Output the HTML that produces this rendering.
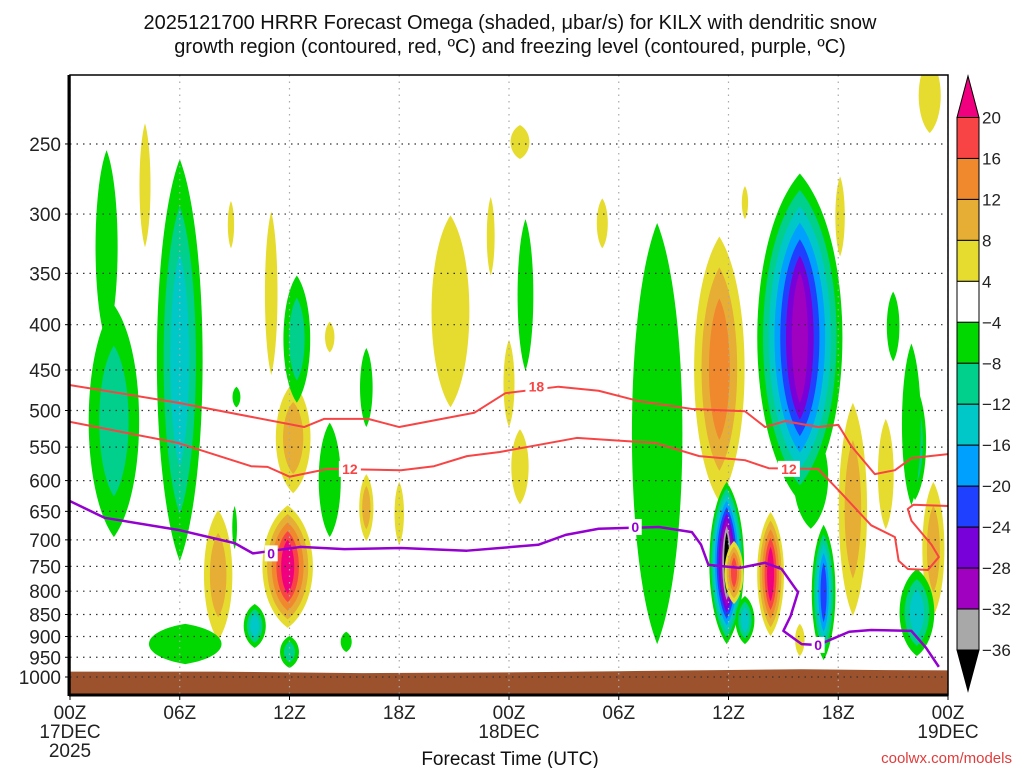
<!DOCTYPE html>
<html><head><meta charset="utf-8">
<style>
html,body{margin:0;padding:0;background:#fff;}
svg{display:block;font-family:"Liberation Sans","DejaVu Sans",sans-serif;}
</style></head>
<body>
<svg id="chart" width="1024" height="768" viewBox="0 0 1024 768">
<text x="510" y="29" font-size="20" text-anchor="middle" fill="#111">2025121700 HRRR Forecast Omega (shaded, μbar/s) for KILX with dendritic snow</text>
<text x="510" y="53" font-size="20" text-anchor="middle" fill="#111">growth region (contoured, red, ºC) and freezing level (contoured, purple, ºC)</text>
<g id="plot"></g>
<g id="cbar"></g>
<text x="510" y="765" font-size="19" text-anchor="middle" fill="#111">Forecast Time (UTC)</text>
<text x="1012" y="763" font-size="15" text-anchor="end" fill="#e03c3c">coolwx.com/models</text>
</svg>
<script>
// ---- data ----
const pressureTicks = [250,300,350,400,450,500,550,600,650,700,750,800,850,900,950,1000];
const hourTicks = [0,6,12,18,24,30,36,42,48];
const hourTickLabels = ["00Z","06Z","12Z","18Z","00Z","06Z","12Z","18Z","00Z"];
const dateLabels = {0:["17DEC","2025"],24:["18DEC"],48:["19DEC"]};
const cbarLevels = [20,16,12,8,4,-4,-8,-12,-16,-20,-24,-28,-32,-36];
const cbarColors = ["#f84444","#f0882e","#e6ae34","#e6dc30","#ffffff","#00d800","#00d08c","#00c8c8","#00a0ff","#2040ff","#7800d8","#a000c0","#a8a8a8"];
const posColors = {4:"#e6dc30",8:"#e6ae34",12:"#f0882e",16:"#f84444",20:"#f0007f"};
const negColors = {"-4":"#00d800","-8":"#00d08c","-12":"#00c8c8","-16":"#00a0ff","-20":"#2040ff","-24":"#7800d8","-28":"#a000c0","-32":"#a8a8a8","-36":"#000000"};
// omega blobs (hour centre, top hPa, bottom hPa, half width hours, peak band)
const blobHour = [2.0,2.4,6.0,4.1,8.8,11.0,12.2,8.1,11.9,12.4,14.2,16.2,16.2,18.0,20.8,23.0,6.3,10.1,12.0,15.1,9.1,14.2,9.0,24.6,29.1,24.9,24.0,24.6,32.1,35.5,40.5,39.9,36.9,42.1,45.0,46.2,47.0,35.9,36.3,38.3,36.9,41.2,42.8,44.6,47.2,46.3,39.9,46.0];
const blobTop  = [254,380,260,237,290,298,465,648,640,352,516,425,590,602,301,287,871,827,899,889,470,397,641,238,288,304,416,525,307,318,520,270,279,272,367,468,200,602,702,651,810,673,490,511,602,755,871,420];
const blobBot  = [420,695,740,327,328,456,620,908,880,490,695,522,702,709,496,352,967,927,977,937,496,430,717,260,328,451,522,638,918,634,680,634,304,335,440,631,243,918,827,899,918,957,853,681,853,947,947,640];
const blobHalfW= [0.7,1.6,1.45,0.35,0.2,0.4,1.1,0.9,1.6,0.85,0.7,0.4,0.45,0.3,1.2,0.25,2.3,0.7,0.6,0.35,0.25,0.3,0.15,0.6,0.35,0.5,0.35,0.55,1.6,1.6,1.1,2.7,0.2,0.3,0.4,0.7,0.7,1.1,0.6,0.85,0.6,0.75,0.9,0.5,0.7,1.1,0.3,0.6];
const blobPeak = [-4,-8,-12,4,4,4,8,8,20,-8,-4,-4,8,4,4,4,-4,-12,-8,-4,-4,4,-4,4,4,-4,4,4,-4,12,-4,-28,4,4,-4,-12,4,-36,16,20,-12,-20,8,4,8,-12,4,-4];
// contours
const m18Hours = [0,5.9,12.8,13.9,16.3,18,22.1,23.8,26.7,28.9,31.1,34,36.9,38,39.1,40.9,42,42.7,44,45.1,46,48];
const m18Pres  = [468,490,522,511,511,522,503,478,470,475,488,498,501,522,514,522,519,548,590,584,566,560];
const m12Hours = [0,5.9,9.9,10.8,12,14.1,18.1,19.9,21.7,23.5,27.7,32,34.4,36.9,38.2,40.9,42.2,43.8,45.1,45.3,45.8,46.9,47.5,47.1,46,45.8,46.1,48];
const m12Pres  = [515,544,578,579,594,582,584,578,563,557,537,544,563,569,581,582,621,674,695,739,755,757,732,709,666,646,639,641];
const zeroHours= [0,1.9,5.9,9,10,12.6,15,18.1,21.7,25.6,27.1,28.9,32.2,34,34.5,34.9,36.6,38,38.9,39.8,39.4,39,40,40.9,42.6,43.8,46,46.8,47.5];
const zeroPres = [633,661,682,706,725,713,717,715,720,709,691,680,677,686,709,747,753,743,755,802,853,887,918,920,889,885,887,927,974];
const terrainHours = [0,8,12,16,24,30,36,40,44,48];
const terrainPres  = [986,986,988,990,988,985,982,980,982,983];
const lineLabelText = ["18","12","12","0","0","0"];
const lineLabelHour = [25.5,15.3,39.3,11.0,30.9,40.9];
const lineLabelPres = [470,582,582,725,677,920];
const lineLabelKind = ["r","r","r","p","p","p"];

// ---- scales ----
const X0=70, X1=948, Y0=75, Y1=695;
function xS(h){return X0 + h*(X1-X0)/48;}
function yS(p){return 677 - 384.5*Math.log(1000/p);}
const NS="http://www.w3.org/2000/svg";
function mk(tag, attrs, parent){const e=document.createElementNS(NS,tag);for(const k in attrs)e.setAttribute(k,attrs[k]);parent.appendChild(e);return e;}

const plot=document.getElementById('plot');
const defs=mk('defs',{},plot);
const cp=mk('clipPath',{id:'clip'},defs);
mk('rect',{x:X0,y:Y0,width:X1-X0,height:Y1-Y0},cp);
const inner=mk('g',{'clip-path':'url(#clip)'},plot);



// blobs
for(let i=0;i<blobHour.length;i++){
  const pk=blobPeak[i];
  let bands=[];
  if(pk>0){for(const v of [4,8,12,16,20]) if(v<=pk) bands.push(posColors[v]);}
  else {for(const v of [-4,-8,-12,-16,-20,-24,-28,-32,-36]) if(v>=pk) bands.push(negColors[String(v)]);}
  const cx=xS(blobHour[i]);
  const yt=yS(blobTop[i]), yb=yS(blobBot[i]);
  const cy=(yt+yb)/2, ry=(yb-yt)/2;
  const rx=blobHalfW[i]*(X1-X0)/48;
  const n=bands.length;
  const g=mk('g',{},inner);
  
  
  for(let k=0;k<n;k++){
    const sx=1-k/(n+0.4), sy=1-0.7*k/n;
    const a=rx*sx, b=ry*sy;
    const c=1.15;
    const d=`M${cx},${cy-b} C${cx+a*c},${cy-b*0.6} ${cx+a*c},${cy+b*0.6} ${cx},${cy+b} C${cx-a*c},${cy+b*0.6} ${cx-a*c},${cy-b*0.6} ${cx},${cy-b}Z`;
    const e=mk('path',{d:d,fill:bands[k]},g);
    
    
  }
}

// terrain
let tp=`M${xS(0)},${Y1+5}`;
for(let i=0;i<terrainHours.length;i++) tp+=` L${xS(terrainHours[i])},${yS(terrainPres[i])}`;
tp+=` L${xS(48)},${Y1+5}Z`;
const terr=mk('path',{d:tp,fill:'#9c522c'},inner);



// grid
for(const p of pressureTicks){
  const gl=mk('line',{x1:X0,x2:X1,y1:yS(p),y2:yS(p),stroke:'#333','stroke-width':1.2,'stroke-dasharray':'1.5,5'},inner);
  
  
}
for(const h of hourTicks){
  const gl=mk('line',{x1:xS(h),x2:xS(h),y1:Y0,y2:Y1,stroke:'#aaa','stroke-width':1.2,'stroke-dasharray':'1.5,5'},inner);
  
  
}

// contours
function poly(hs,ps,color,w,name){
  let d='';
  for(let i=0;i<hs.length;i++) d+=(i?' L':'M')+xS(hs[i])+','+yS(ps[i]);
  const e=mk('path',{d:d,fill:'none',stroke:color,'stroke-width':w,'stroke-linejoin':'round'},inner);
  
  
}
poly(m18Hours,m18Pres,'#f84444',2,'contour-minus18');
poly(m12Hours,m12Pres,'#f84444',2,'contour-minus12');
poly(zeroHours,zeroPres,'#9400d0',2.5,'contour-freezing-0');
for(let i=0;i<lineLabelText.length;i++){
  const x=xS(lineLabelHour[i]), y=yS(lineLabelPres[i]);
  const col=lineLabelKind[i]==='r'?'#f84444':'#9400d0';
  const w=lineLabelText[i].length*9+4;
  mk('rect',{x:x-w/2,y:y-8,width:w,height:16,fill:'#fff'},inner);
  const t=mk('text',{x:x,y:y+5,'font-size':14,'font-weight':'bold','text-anchor':'middle',fill:col},inner);
  t.textContent=lineLabelText[i];
  
  
}

// frame
const fr=mk('rect',{x:X0,y:Y0,width:X1-X0,height:Y1-Y0,fill:'none',stroke:'#000','stroke-width':1.5},plot);


mk('line',{x1:X0-1,x2:X0-1,y1:Y0,y2:Y1+1,stroke:'#000','stroke-width':3},plot);
mk('line',{x1:X0-1,x2:X1,y1:Y1,y2:Y1,stroke:'#000','stroke-width':3},plot);

// y ticks
for(const p of pressureTicks){
  mk('line',{x1:X0-5,x2:X0,y1:yS(p),y2:yS(p),stroke:'#000','stroke-width':1},plot);
  const t=mk('text',{x:X0-9,y:yS(p)+7,'font-size':19,'text-anchor':'end',fill:'#222'},plot);
  t.textContent=p;
  
  
}
// x ticks
for(let i=0;i<hourTicks.length;i++){
  const x=xS(hourTicks[i]);
  mk('line',{x1:x,x2:x,y1:Y1,y2:Y1+5,stroke:'#000','stroke-width':1},plot);
  const t=mk('text',{x:x,y:Y1+24,'font-size':19,'text-anchor':'middle',fill:'#222'},plot);
  t.textContent=hourTickLabels[i];
  
  
  const dl=dateLabels[hourTicks[i]];
  if(dl){dl.forEach((s,j)=>{
    const d=mk('text',{x:x,y:Y1+43+j*19,'font-size':19,'text-anchor':'middle',fill:'#222'},plot);
    d.textContent=s;
    
    
  });}
}

// colorbar
const cb=document.getElementById('cbar');
const cbX=957, cbW=22;
function cbY(i){return 117.5 + i*(650-117.5)/(cbarLevels.length-1);}
mk('path',{d:`M${cbX},${cbY(0)} L${cbX+cbW/2},76 L${cbX+cbW},${cbY(0)}Z`,fill:'#f0007f',stroke:'#000','stroke-width':1},cb);
mk('path',{d:`M${cbX},${cbY(13)} L${cbX+cbW/2},691 L${cbX+cbW},${cbY(13)}Z`,fill:'#000',stroke:'#000','stroke-width':1},cb);
for(let i=0;i<cbarColors.length;i++){
  const r=mk('rect',{x:cbX,y:cbY(i),width:cbW,height:cbY(i+1)-cbY(i),fill:cbarColors[i],stroke:'#000','stroke-width':1},cb);
  
  
}
for(let i=0;i<cbarLevels.length;i++){
  const v=cbarLevels[i];
  const t=mk('text',{x:982,y:cbY(i)+6,'font-size':17,fill:'#222'},cb);
  t.textContent=v<0?'\u2212'+Math.abs(v):String(v);
  
  
}
</script>
</body></html>
